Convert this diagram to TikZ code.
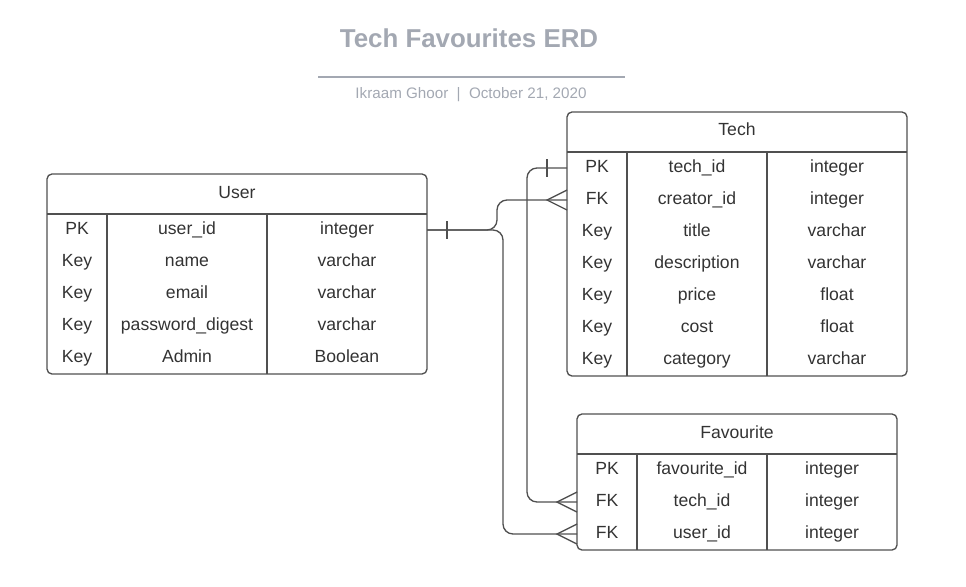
\documentclass[tikz,border=0pt]{standalone}
\usepackage{fontspec}
\setmainfont{Liberation Sans}
\definecolor{ink}{HTML}{333333}
\definecolor{frame}{HTML}{505050}
\definecolor{titlegray}{HTML}{A3A8B2}
\begin{document}
\begin{tikzpicture}[x=0.75pt,y=-0.75pt,
  font=\fontsize{13.2}{15}\selectfont,
  tbl/.style={draw=frame, line width=1pt, rounded corners=3.75pt, inner sep=0pt},
  cell/.style={inner sep=0pt, text=ink, anchor=center, text height=9.45pt, text depth=0pt},
  grid/.style={draw=frame, line width=1pt},
  conn/.style={draw=frame, line width=1pt, rounded corners=7.5pt},
  tick/.style={draw=frame, line width=1pt}]
\useasboundingbox (0,0) rectangle (966,586);

% title block
\node[cell, text=titlegray, font=\bfseries\fontsize{19.4}{23}\selectfont, text height=13.9pt] (title) at (469,38.5) {Tech Favourites ERD};
\draw[draw=titlegray, line width=1.3pt] (318,77) -- (625,77);
\node[cell, text=titlegray, font=\fontsize{11.4}{13}\selectfont, text height=8.2pt] (subtitle) at (471,93) {Ikraam Ghoor\hspace{0.55em}|\hspace{0.55em}October 21, 2020};

% ---------- User ----------
\node[tbl, minimum width=285pt, minimum height=150pt] (user) at (237,274) {};
\draw[grid] (47,214) -- (427,214);
\draw[grid] (107,214) -- (107,374);
\draw[grid] (267,214) -- (267,374);
\node[cell] (user-h) at (237,192.5) {User};
\foreach \k/\n/\t [count=\i] in {PK/user\_id/integer, Key/name/varchar, Key/email/varchar, Key/password\_digest/varchar, Key/Admin/Boolean}{
  \node[cell] (uk\i) at (77,{196.5+32*\i}) {\k};
  \node[cell] (un\i) at (187,{196.5+32*\i}) {\n};
  \node[cell] (ut\i) at (347,{196.5+32*\i}) {\t};
}

% ---------- Tech ----------
\node[tbl, minimum width=255pt, minimum height=198pt] (tech) at (737,244) {};
\draw[grid] (567,152) -- (907,152);
\draw[grid] (627,152) -- (627,376);
\draw[grid] (767,152) -- (767,376);
\node[cell] (tech-h) at (737,129.5) {Tech};
\foreach \k/\n/\t [count=\i] in {PK/tech\_id/integer, FK/creator\_id/integer, Key/title/varchar, Key/description/varchar, Key/price/float, Key/cost/float, Key/category/varchar}{
  \node[cell] (tk\i) at (597,{134.5+32*\i}) {\k};
  \node[cell] (tn\i) at (697,{134.5+32*\i}) {\n};
  \node[cell] (tt\i) at (837,{134.5+32*\i}) {\t};
}

% ---------- Favourite ----------
\node[tbl, minimum width=240pt, minimum height=102pt] (fav) at (737,482) {};
\draw[grid] (577,454) -- (897,454);
\draw[grid] (637,454) -- (637,550);
\draw[grid] (767,454) -- (767,550);
\node[cell] (fav-h) at (737,432.5) {Favourite};
\foreach \k/\n/\t [count=\i] in {PK/favourite\_id/integer, FK/tech\_id/integer, FK/user\_id/integer}{
  \node[cell] (fk\i) at (607,{436+32*\i}) {\k};
  \node[cell] (fn\i) at (702,{436+32*\i}) {\n};
  \node[cell] (ft\i) at (832,{436+32*\i}) {\t};
}

% connection points
\coordinate (uE) at (427,230);
\coordinate (tE1) at (567,168);
\coordinate (tE2) at (567,200);
\coordinate (fE2) at (577,502);
\coordinate (fE3) at (577,534);
\coordinate (j1) at (497,200);
\coordinate (j2) at (503,534);
\coordinate (j3) at (527,502);

% User -> Tech.creator_id
\draw[conn] (uE) -| (j1) -- (tE2);
\draw[tick] (uE) ++(20,-9) -- ++(0,18);
\draw[tick] (tE2) ++(0,-10) -- ++(-20,10) -- ++(20,10);

% User -> Favourite.user_id
\draw[conn] (uE) -| (j2) -- (fE3);
\draw[tick] (fE3) ++(0,-10) -- ++(-20,10) -- ++(20,10);

% Tech.tech_id -> Favourite.tech_id
\draw[conn] (tE1) -| (j3) -- (fE2);
\draw[tick] (tE1) ++(-20,-9) -- ++(0,18);
\draw[tick] (fE2) ++(0,-10) -- ++(-20,10) -- ++(20,10);
\end{tikzpicture}
\end{document}
